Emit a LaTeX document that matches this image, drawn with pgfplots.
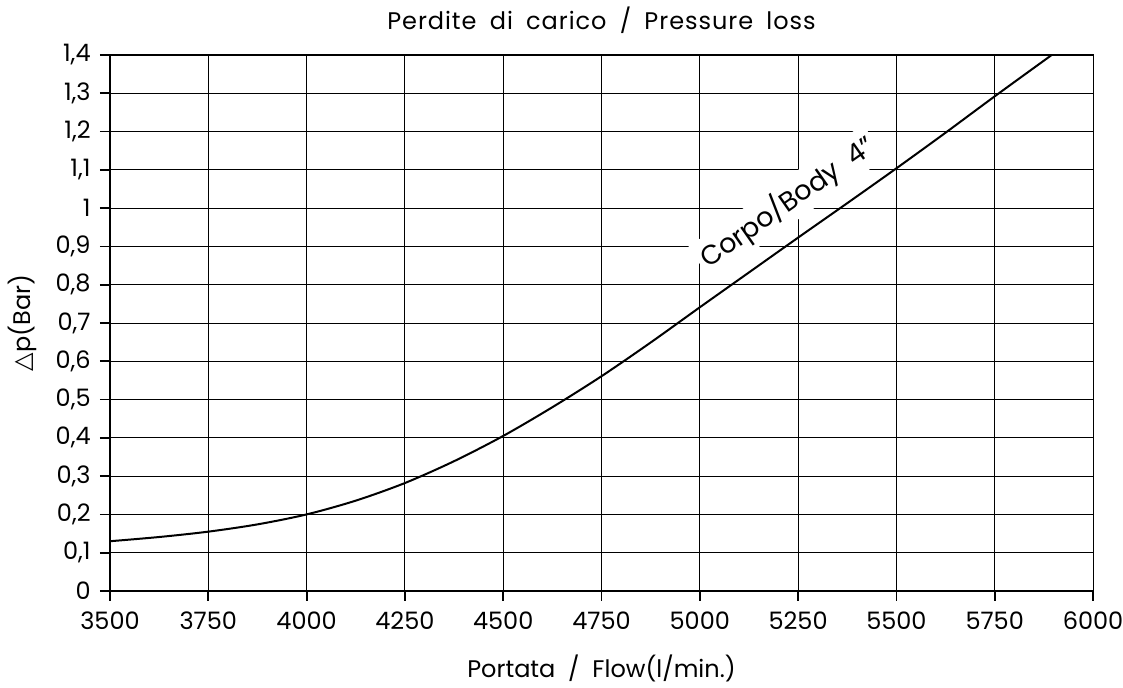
\documentclass[border=0pt]{standalone}
\usepackage{fontspec}
\setmainfont{Poppins}
\newfontfamily\symfont{DejaVu Sans}
\newfontfamily\titlefont[LetterSpace=4, WordSpace=1.8]{Poppins}
\usepackage{pgfplots}
\pgfplotsset{compat=1.18}
\begin{document}
\fontsize{12}{14}\selectfont
\begin{tikzpicture}
\begin{axis}[
  scale only axis,
  width=491.5pt, height=268pt,
  xmin=3500, xmax=6000, ymin=0, ymax=1.4,
  xtick={3500,3750,4000,4250,4500,4750,5000,5250,5500,5750,6000},
  ytick={0,0.1,0.2,0.3,0.4,0.5,0.6,0.7,0.8,0.9,1.0,1.1,1.2,1.3,1.4},
  grid=major,
  major grid style={black, line width=0.45pt},
  axis line style={black, line width=0.5pt},
  tick align=outside, tick pos=left,
  major tick length=5pt,
  tick style={black, line width=0.9pt},
  /pgf/number format/.cd, use comma, 1000 sep={}, assume math mode=true,
  /pgfplots/.cd,
  tick label style={font=\fontsize{12}{14}\selectfont},
  xticklabel style={yshift=-1pt},
  yticklabel style={xshift=-0.5pt},
  title={Perdite di carico / Pressure loss},
  title style={at={(0.5,1)}, anchor=center, yshift=11.5pt, font=\titlefont\fontsize{12}{14}\selectfont},
  xlabel={Portata \ /\ \ Flow(l/min.)},
  xlabel style={at={(0.5,0)}, anchor=center, yshift=-38.5pt, font=\fontsize{12}{14}\selectfont},
  ylabel={{\symfont △}p(Bar)},
  ylabel style={at={(axis description cs:0,0.5)}, anchor=center, yshift=44pt, font=\fontsize{12}{14}\selectfont},
]
\addplot[black, line width=1pt, smooth] coordinates {
(3500,0.130) (3625,0.141) (3750,0.155) (3875,0.174) (4000,0.200) (4125,0.236) (4250,0.282)
(4375,0.339) (4500,0.405) (4625,0.480) (4750,0.561) (4875,0.649) (5000,0.741)
(5125,0.832) (5250,0.923) (5375,1.013) (5500,1.104) (5625,1.197) (5750,1.292) (5895,1.400)};
\node[fill=white, rotate=35, inner sep=2pt, font=\fontsize{13.5}{15}\selectfont] at (axis cs:5222,1.015) {Corpo/Body\ \ 4”};
\end{axis}
\path (current axis.south west) ++(-55pt,-48.5pt) coordinate (bl);
\pgfresetboundingbox
\useasboundingbox (bl) rectangle ++(561.5pt,344pt);
\end{tikzpicture}
\end{document}
